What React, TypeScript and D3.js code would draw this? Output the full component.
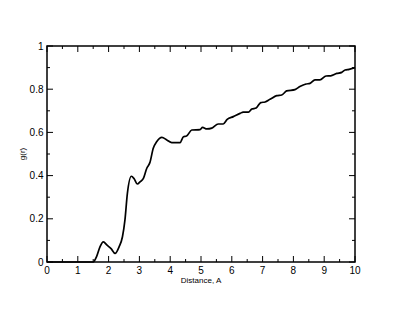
import React from "react";
import * as d3 from "d3";

const distance = [0, 0.5, 1.0, 1.5, 1.61, 1.72, 1.83, 1.95, 2.08, 2.21, 2.34, 2.45, 2.53, 2.61, 2.74, 2.83, 2.93, 3.03, 3.13, 3.24, 3.34, 3.45, 3.56, 3.73, 3.89, 4.05, 4.32, 4.43, 4.53, 4.7, 4.97, 5.05, 5.19, 5.35, 5.56, 5.72, 5.85, 6.05, 6.27, 6.37, 6.54, 6.65, 6.79, 6.94, 7.08, 7.24, 7.46, 7.62, 7.78, 8.05, 8.21, 8.41, 8.54, 8.7, 8.86, 9.06, 9.21, 9.41, 9.57, 9.68, 9.81, 10];
const gr = [0, 0, 0, 0, 0.025, 0.07, 0.093, 0.078, 0.062, 0.04, 0.07, 0.117, 0.194, 0.318, 0.397, 0.385, 0.361, 0.372, 0.387, 0.434, 0.46, 0.527, 0.557, 0.577, 0.565, 0.553, 0.553, 0.58, 0.583, 0.611, 0.613, 0.623, 0.616, 0.62, 0.639, 0.639, 0.66, 0.673, 0.688, 0.694, 0.694, 0.708, 0.713, 0.738, 0.741, 0.753, 0.77, 0.773, 0.792, 0.798, 0.812, 0.824, 0.827, 0.843, 0.843, 0.861, 0.862, 0.873, 0.878, 0.889, 0.892, 0.9];

const xTicks = [0, 1, 2, 3, 4, 5, 6, 7, 8, 9, 10];
const xMinor = [0.5, 1.5, 2.5, 3.5, 4.5, 5.5, 6.5, 7.5, 8.5, 9.5];
const yTicks = [0, 0.2, 0.4, 0.6, 0.8, 1];
const yMinor = [0.1, 0.3, 0.5, 0.7, 0.9];
const xTitle = "Distance, A";
const yTitle = "g(r)";

const W = 400, H = 309;
const L = 47, R = 355, T = 46, B = 262;

export default function App() {
  const x = d3.scaleLinear().domain([0, 10]).range([L, R]);
  const y = d3.scaleLinear().domain([0, 1]).range([B, T]);
  const pts = distance.map((d, i) => [d, gr[i]] as [number, number]);
  const line = d3.line<[number, number]>().x(d => x(d[0])).y(d => y(d[1])).curve(d3.curveMonotoneX);
  const font = "'Liberation Sans', Arial, Helvetica, sans-serif";
  const fmt = (v: number) => (v === 0 || v === 1 ? String(v) : String(v));
  return (
    <svg width={W} height={H} style={{ position: "absolute", left: 0, top: 0, background: "#fff" }} fontFamily={font}>
      <rect x={0} y={0} width={W} height={H} fill="#fff" />
      {/* ticks */}
      <g stroke="#000" strokeWidth={1}>
        {xTicks.map(t => (
          <g key={"xt" + t}>
            <line x1={x(t)} x2={x(t)} y1={B} y2={B - 6} />
            <line x1={x(t)} x2={x(t)} y1={T} y2={T + 6} />
          </g>
        ))}
        {xMinor.map(t => (
          <g key={"xm" + t}>
            <line x1={x(t)} x2={x(t)} y1={B} y2={B - 3} />
            <line x1={x(t)} x2={x(t)} y1={T} y2={T + 3} />
          </g>
        ))}
        {yTicks.map(t => (
          <g key={"yt" + t}>
            <line x1={L} x2={L + 6} y1={y(t)} y2={y(t)} />
            <line x1={R} x2={R - 6} y1={y(t)} y2={y(t)} />
          </g>
        ))}
        {yMinor.map(t => (
          <g key={"ym" + t}>
            <line x1={L} x2={L + 3} y1={y(t)} y2={y(t)} />
            <line x1={R} x2={R - 3} y1={y(t)} y2={y(t)} />
          </g>
        ))}
      </g>
      <rect x={L} y={T} width={R - L} height={B - T} fill="none" stroke="#000" strokeWidth={1.5} />
      <path d={line(pts) || ""} fill="none" stroke="#000" strokeWidth={1.7} strokeLinejoin="round" />
      {/* labels */}
      {xTicks.map(t => (
        <text key={"xl" + t} x={x(t)} y={B + 11.5} fontSize={10} textAnchor="middle" fill="#000">{t}</text>
      ))}
      {yTicks.map(t => (
        <text key={"yl" + t} x={L - 3.5} y={y(t) + 3.6} fontSize={10} textAnchor="end" fill="#000">{fmt(t)}</text>
      ))}
      <text x={(L + R) / 2} y={282.5} fontSize={8} textAnchor="middle" fill="#000">{xTitle}</text>
      <text transform={`translate(24.5, ${(T + B) / 2}) rotate(-90)`} fontSize={8} textAnchor="middle" fill="#000">{yTitle}</text>
    </svg>
  );
}
